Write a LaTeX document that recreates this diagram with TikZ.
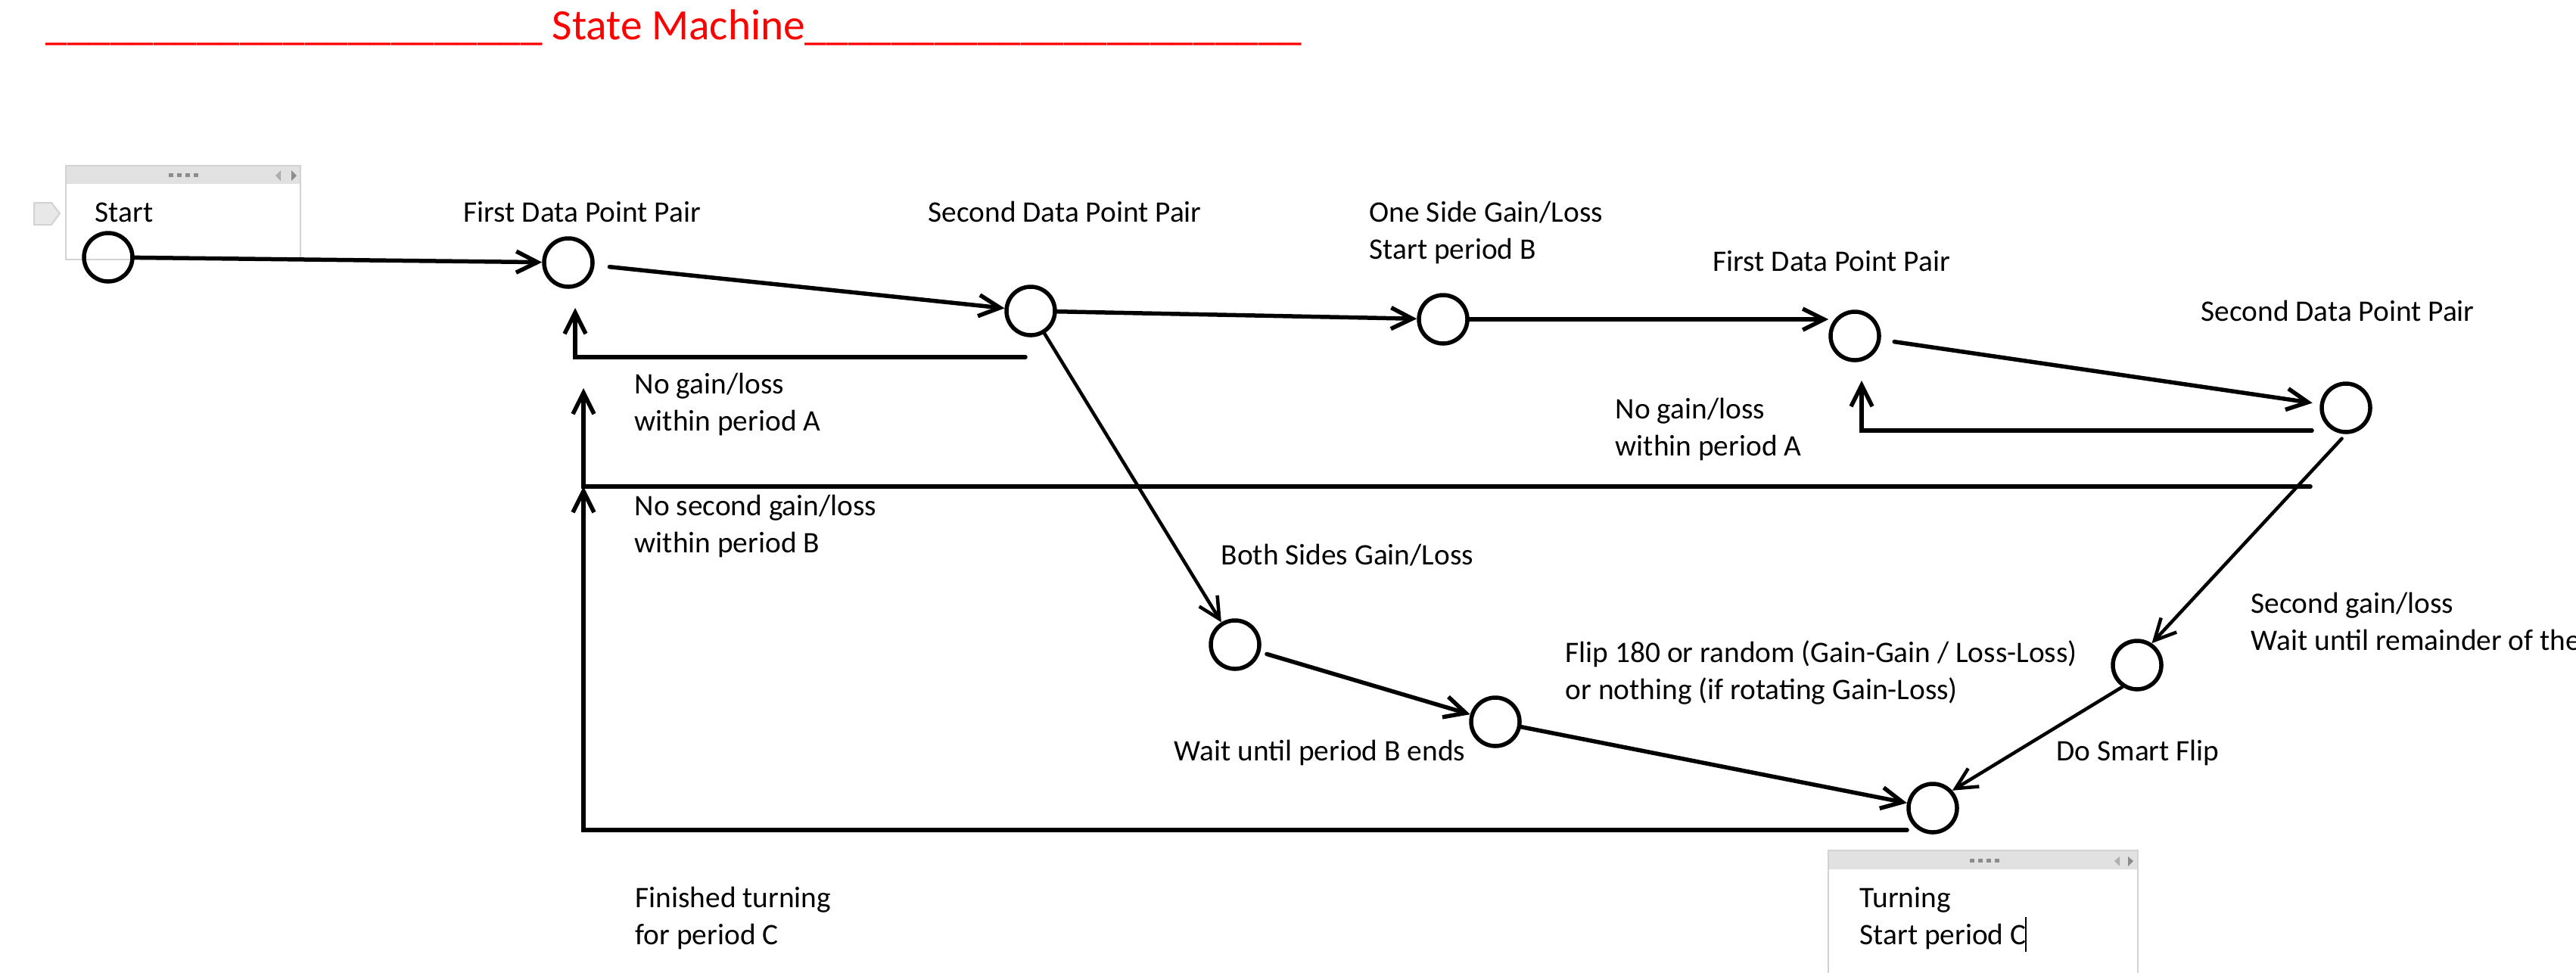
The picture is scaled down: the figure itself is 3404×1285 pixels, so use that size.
\documentclass[tikz,border=0pt]{standalone}
\usepackage{fontspec}
\setmainfont{Carlito}
\usetikzlibrary{arrows.meta}

\definecolor{titlered}{HTML}{FF0000}
\definecolor{panelgray}{HTML}{D2D2D2}
\definecolor{headgray}{HTML}{E1E1E1}
\definecolor{dotgray}{HTML}{8C8C8C}
\definecolor{tabgray}{HTML}{E8E8E8}

\newcommand\titlerule{\_\_\_\_\_\_\_\_\_\_\_\_\_\_\_\_\_\_\_\_\_\_\_}

\tikzset{
  state/.style={circle, draw, line width=0.55mm, minimum size=6.4mm, inner sep=0pt},
  lbl/.style={anchor=base west, inner sep=0pt, align=left, font=\fontsize{11.2}{13.8}\selectfont},
  arr/.style={line width=0.55mm, line cap=round, -{Straight Barb[length=2.8mm,width=2.8mm]}},
  panel/.style={draw=panelgray, line width=0.2mm, fill=white},
}

\begin{document}
\begin{tikzpicture}[x=0.1mm, y=-0.1mm]
  \clip (0,0) rectangle (3404,1285);

  % title
  \node[anchor=base west, inner sep=0pt, text=titlered, font=\fontsize{16.3}{19}\selectfont]
    (title) at (60,52) {\titlerule{} State Machine\titlerule};

  % note panels
  \draw[panel] (87,219) rectangle (397,343);
  \fill[headgray] (88,220) rectangle (396,243);
  \foreach \i in {0,...,3}
    \fill[dotgray] (223+\i*11,229) rectangle ++(6,5);
  \fill[dotgray!70] (371,225) -- (364,232) -- (371,239) -- cycle;
  \fill[dotgray] (385,225) -- (392,232) -- (385,239) -- cycle;
  \filldraw[fill=tabgray, draw=panelgray, line width=0.2mm]
    (45,268) -- (68,268) -- (79,282) -- (68,297) -- (45,297) -- cycle;

  \draw[panel] (2416,1124) rectangle (2825,1300);
  \fill[headgray] (2417,1125) rectangle (2824,1149);
  \foreach \i in {0,...,3}
    \fill[dotgray] (2603+\i*11,1135) rectangle ++(6,5);
  \fill[dotgray!70] (2801,1132) -- (2794,1138) -- (2801,1145) -- cycle;
  \fill[dotgray] (2812,1132) -- (2819,1138) -- (2812,1145) -- cycle;

  % states
  \node[state] (start) at (143,340) {};
  \node[state] (fdp1) at (751,347) {};
  \node[state] (sdp1) at (1362,411) {};
  \node[state] (oneside) at (1907,422) {};
  \node[state] (fdp2) at (2451,444) {};
  \node[state] (sdp2) at (3100,539) {};
  \node[state] (both) at (1632,852) {};
  \node[state] (waitb) at (1976,954) {};
  \node[state] (smartflip) at (2824,879) {};
  \node[state] (turning) at (2554,1068) {};

  % labels (two-line labels sit on their last line)
  \node[lbl] (lstart) at (125,293) {Start};
  \node[lbl] (lfdp1) at (612,293) {First Data Point Pair};
  \node[lbl] (lsdp1) at (1226,293) {Second Data Point Pair};
  \node[lbl] (lone) at (1809,342) {One Side Gain/Loss\\Start period B};
  \node[lbl] (lfdp2) at (2263,358) {First Data Point Pair};
  \node[lbl] (lsdp2) at (2908,424) {Second Data Point Pair};
  \node[lbl] (lnoa) at (838,569) {No gain/loss\\within period A};
  \node[lbl] (lnob) at (838,730) {No second gain/loss\\within period B};
  \node[lbl] (lnoa2) at (2134,602) {No gain/loss\\within period A};
  \node[lbl] (lboth) at (1613,746) {Both Sides Gain/Loss};
  \node[lbl] (lflip) at (2068,924) {Flip 180 or random (Gain-Gain / Loss-Loss)\\or nothing (if rotating Gain-Loss)};
  \node[lbl] (lwait) at (1551,1005) {Wait until period B ends};
  \node[lbl] (lsecond) at (2974,859) {Second gain/loss\\Wait until remainder of the};
  \node[lbl] (lsmart) at (2717,1005) {Do Smart Flip};
  \node[lbl] (lfinish) at (839,1248) {Finished turning\\for period C};
  \node[lbl] (lturn) at (2457,1248) {Turning\\Start period C};
  \draw[line width=0.12mm] (2677,1212) -- (2677,1258);

  % return paths
  \coordinate (reta1s) at (1355,472);
  \coordinate (reta1e) at (760,407);
  \coordinate (reta2s) at (3055,569);
  \coordinate (reta2e) at (2460,503);
  \coordinate (retbs) at (3053,643);
  \coordinate (retbe) at (771,513);
  \coordinate (retcs) at (2520,1097);
  \coordinate (retce) at (771,643);

  % transitions
  \draw[arr] (start) -- (fdp1);
  \draw[arr, shorten <=2mm] (fdp1) -- (sdp1);
  \draw[arr] (sdp1) -- (oneside);
  \draw[arr] (oneside.east) -- (oneside.east -| fdp2.west);
  \draw[arr, shorten <=1.8mm, shorten >=1mm] (fdp2) -- (sdp2);
  \draw[arr] (reta1s) -| (reta1e);
  \draw[arr] (reta2s) -| (reta2e);
  \draw[arr] (retbs) -| (retbe);
  \draw[arr] (retcs) -| (retce);
  \draw[arr, line width=0.45mm] (sdp1) -- (both);
  \draw[arr, shorten <=0.9mm] (both) -- (waitb);
  \draw[arr] (waitb) -- (turning);
  \draw[arr, line width=0.45mm, shorten <=0.8mm] (sdp2.south) -- (smartflip.56);
  \draw[arr, line width=0.45mm] (smartflip.236) -- (turning.42);
\end{tikzpicture}
\end{document}
